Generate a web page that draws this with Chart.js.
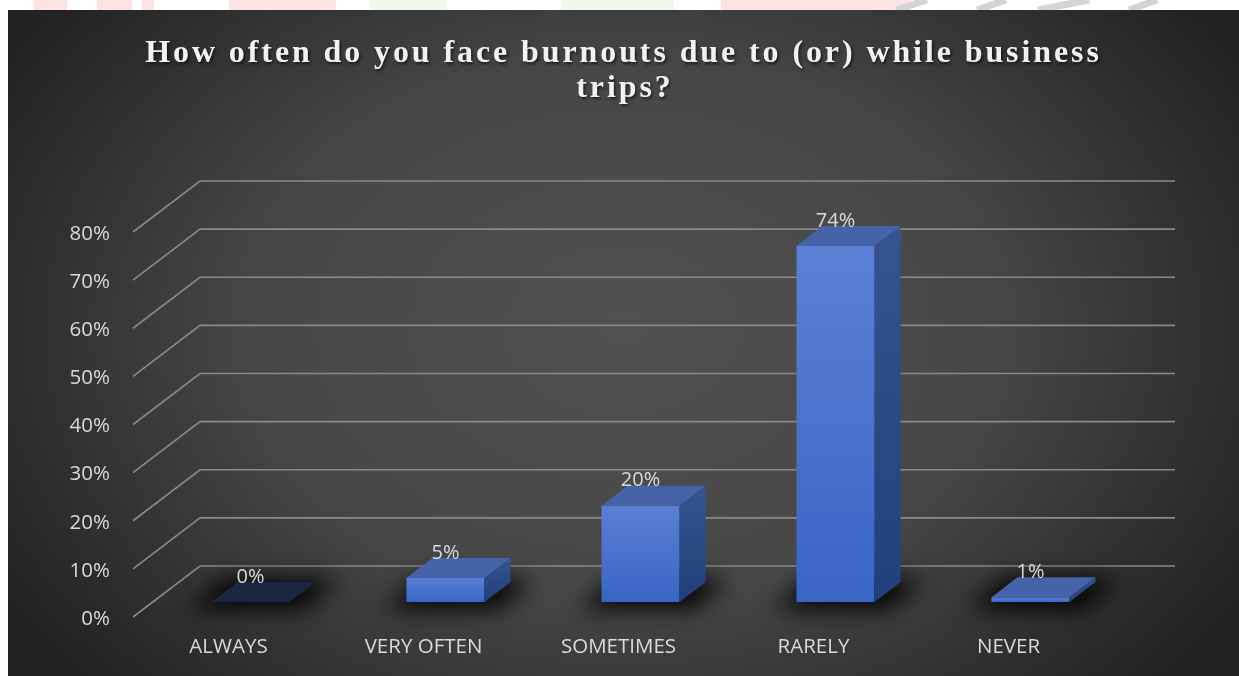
<!DOCTYPE html>
<html>
<head>
<meta charset="utf-8">
<title>Burnouts during business trips</title>
<script src="https://cdn.jsdelivr.net/npm/chart.js@4"></script>
<style>
  html, body { margin: 0; padding: 0; background: #fff; }
  #wrap { position: relative; width: 1239px; height: 676px; }
</style>
</head>
<body>
<div id="wrap"><canvas id="burnoutChart" width="1239" height="676"></canvas></div>
<script>
const titleLines = ['How often do you face burnouts due to (or) while business', 'trips?'];
const categories = ['ALWAYS', 'VERY OFTEN', 'SOMETIMES', 'RARELY', 'NEVER'];
const shares = [0, 5, 20, 74, 1];
const yMax = 80;
const yStep = 10;

// fake 3d: offsets (px) measured from the plane of the bars' front faces
const wall = { dx: 47, dy: -36 };
const floor = { dx: -20, dy: 15 };
const depth = { dx: 26, dy: -20 };

const W = 1239, H = 676;
const panel = { x: 8, y: 10 };
const labelFont = '20px "Open Sans", sans-serif';
const labelColor = '#dadada';

function poly(ctx, pts) {
  ctx.beginPath();
  ctx.moveTo(pts[0][0], pts[0][1]);
  for (let i = 1; i < pts.length; i++) ctx.lineTo(pts[i][0], pts[i][1]);
  ctx.closePath();
}

function vGrad(ctx, top, bottom, c0, c1) {
  const g = ctx.createLinearGradient(0, top, 0, Math.max(bottom, top + 1));
  g.addColorStop(0, c0);
  g.addColorStop(1, c1);
  return g;
}

const scene3d = {
  id: 'scene3d',
  beforeDraw(chart) {
    const ctx = chart.ctx;
    ctx.save();
    ctx.fillStyle = '#fff';
    ctx.fillRect(0, 0, W, H);
    // faint logo bits peeking above the panel
    ctx.fillStyle = '#fde4e4';
    [[34, 33], [97, 35], [142, 12], [229, 107], [721, 190]].forEach(([x, w]) => ctx.fillRect(x, 0, w, panel.y));
    ctx.fillStyle = '#f0f8ea';
    [[370, 77], [561, 113]].forEach(([x, w]) => ctx.fillRect(x, 0, w, panel.y));
    ctx.strokeStyle = '#d4d4d4';
    ctx.lineWidth = 7;
    [[896, 927], [977, 1006], [1038, 1089], [1129, 1157]].forEach(([a, b]) => {
      ctx.beginPath(); ctx.moveTo(a, panel.y); ctx.lineTo(b, 0); ctx.stroke();
    });
    ctx.restore();

    // panel with a soft radial glow
    ctx.save();
    ctx.beginPath();
    ctx.rect(panel.x, panel.y, W - panel.x, H - panel.y);
    ctx.clip();
    ctx.translate(623, 330);
    ctx.scale(1, 0.72);
    const g = ctx.createRadialGradient(0, 0, 0, 0, 0, 720);
    g.addColorStop(0, '#505050');
    g.addColorStop(0.5, '#474747');
    g.addColorStop(1, '#222222');
    ctx.fillStyle = g;
    ctx.fillRect(-700, -700, 1400, 1400);
    ctx.restore();
  },
  beforeDatasetsDraw(chart) {
    const { ctx, chartArea: a, scales: { y } } = chart;
    ctx.save();
    ctx.strokeStyle = '#8a8a8a';
    ctx.lineWidth = 1.6;
    y.ticks.forEach(t => {
      const py = y.getPixelForValue(t.value);
      ctx.beginPath();
      ctx.moveTo(a.left + floor.dx, py + floor.dy);
      ctx.lineTo(a.left + wall.dx, py + wall.dy);
      ctx.lineTo(a.right + wall.dx, py + wall.dy);
      ctx.stroke();
    });
    ctx.restore();

    // dark contact shadows on the floor
    const meta = chart.getDatasetMeta(0);
    ctx.save();
    ctx.filter = 'blur(11px)';
    ctx.fillStyle = 'rgba(0,0,0,0.95)';
    meta.data.forEach(bar => {
      const { x, base, width } = bar.getProps(['x', 'base', 'width'], true);
      const l = x - width / 2, r = x + width / 2;
      poly(ctx, [[l - 22, base + 7], [r + 14, base + 7], [r + depth.dx + 22, base + depth.dy - 3], [l + depth.dx - 12, base + depth.dy - 3]]);
      ctx.fill();
    });
    ctx.restore();
  },
  afterDatasetsDraw(chart) {
    const ctx = chart.ctx;
    const meta = chart.getDatasetMeta(0);
    ctx.save();
    meta.data.forEach((bar, i) => {
      const { x, y, base, width } = bar.getProps(['x', 'y', 'base', 'width'], true);
      const l = x - width / 2, r = x + width / 2;
      const flat = base - y < 0.5;
      if (!flat) {
        ctx.fillStyle = vGrad(ctx, y + depth.dy, base, '#36548f', '#203f7b');
        poly(ctx, [[r, y], [r + depth.dx, y + depth.dy], [r + depth.dx, base + depth.dy], [r, base]]);
        ctx.fill();
      }
      ctx.fillStyle = flat ? '#1d2640' : '#4663a9';
      poly(ctx, [[l, y], [l + depth.dx, y + depth.dy], [r + depth.dx, y + depth.dy], [r, y]]);
      ctx.fill();

      ctx.font = labelFont;
      ctx.fillStyle = labelColor;
      ctx.textAlign = 'center';
      ctx.textBaseline = 'middle';
      ctx.fillText(shares[i] + '%', x, y - 25);
    });
    ctx.restore();
  },
  afterDraw(chart) {
    const ctx = chart.ctx;
    ctx.save();
    ctx.font = 'bold 32px "Liberation Serif", serif';
    ctx.letterSpacing = '2.9px';
    ctx.fillStyle = '#f2f2f2';
    ctx.textAlign = 'center';
    ctx.textBaseline = 'alphabetic';
    ctx.shadowColor = 'rgba(0,0,0,0.6)';
    ctx.shadowBlur = 3;
    ctx.shadowOffsetX = 1.5;
    ctx.shadowOffsetY = 2;
    ctx.fillText(titleLines[0], 623.5, 62);
    ctx.fillText(titleLines[1], 625, 97);
    ctx.restore();
  }
};

new Chart(document.getElementById('burnoutChart'), {
  type: 'bar',
  data: {
    labels: categories,
    datasets: [{
      data: shares,
      backgroundColor(c) {
        const chart = c.chart;
        if (!chart.chartArea || !c.parsed) return '#4a74d0';
        const ys = chart.scales.y;
        return vGrad(chart.ctx, ys.getPixelForValue(c.parsed.y), ys.getPixelForValue(0), '#5b80d5', '#3865c4');
      },
      borderWidth: 0,
      barPercentage: 0.4,
      categoryPercentage: 1
    }]
  },
  options: {
    responsive: false,
    animation: false,
    devicePixelRatio: 1,
    layout: { padding: { left: 0, right: 111, top: 217, bottom: 0 } },
    plugins: {
      legend: { display: false },
      title: { display: false },
      tooltip: { enabled: false }
    },
    scales: {
      x: {
        grid: { display: false, drawTicks: false },
        border: { display: false },
        ticks: { color: labelColor, font: { family: '"Open Sans", sans-serif', size: 20.5 }, padding: 33, labelOffset: floor.dx - 2, maxRotation: 0 },
        afterFit(s) { s.height = 74; }
      },
      y: {
        min: 0,
        max: yMax,
        grid: { display: false, drawTicks: false },
        border: { display: false },
        ticks: {
          stepSize: yStep,
          color: labelColor,
          font: { family: '"Open Sans", sans-serif', size: 20.5 },
          padding: 43,
          labelOffset: floor.dy + 2,
          callback: v => v + '%'
        },
        afterFit(s) { s.width = 153; }
      }
    }
  },
  plugins: [scene3d]
});
</script>
</body>
</html>
